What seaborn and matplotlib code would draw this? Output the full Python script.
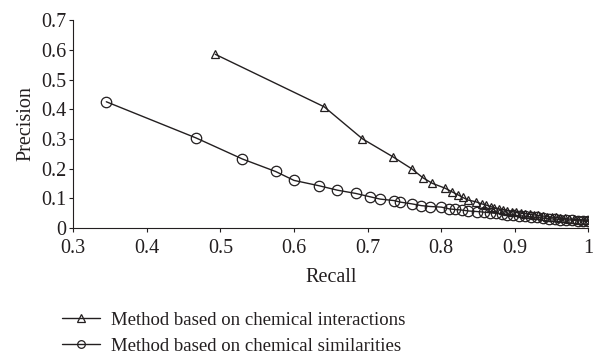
import numpy as np
import pandas as pd
import matplotlib
matplotlib.use("Agg")
import matplotlib.pyplot as plt
import seaborn as sns

# values
recall_inter = [0.493, 0.641, 0.693, 0.734, 0.760, 0.775, 0.788, 0.805, 0.815, 0.823,
                0.829, 0.836, 0.847, 0.855, 0.861, 0.867, 0.872, 0.878, 0.884, 0.890,
                0.896, 0.902, 0.908, 0.914, 0.920, 0.926, 0.932, 0.938, 0.944, 0.950,
                0.956, 0.962, 0.968, 0.974, 0.980, 0.986, 0.992, 0.997, 1.000]
prec_inter = [0.585, 0.408, 0.300, 0.240, 0.199, 0.169, 0.150, 0.134, 0.121, 0.111,
              0.103, 0.094, 0.088, 0.081, 0.077, 0.072, 0.068, 0.064, 0.061, 0.058,
              0.055, 0.052, 0.050, 0.048, 0.046, 0.044, 0.042, 0.040, 0.038, 0.036,
              0.035, 0.033, 0.032, 0.030, 0.029, 0.028, 0.027, 0.026, 0.025]

recall_sim = [0.345, 0.467, 0.530, 0.575, 0.600, 0.634, 0.659, 0.684, 0.703, 0.717,
              0.736, 0.744, 0.760, 0.773, 0.785, 0.800, 0.811, 0.819, 0.828, 0.837,
              0.849, 0.858, 0.866, 0.874, 0.882, 0.890, 0.898, 0.906, 0.914, 0.922,
              0.930, 0.938, 0.946, 0.954, 0.962, 0.970, 0.978, 0.986, 0.993, 1.000]
prec_sim = [0.425, 0.303, 0.232, 0.190, 0.160, 0.142, 0.127, 0.116, 0.105, 0.097,
            0.092, 0.087, 0.081, 0.075, 0.072, 0.070, 0.064, 0.062, 0.060, 0.057,
            0.055, 0.053, 0.051, 0.049, 0.047, 0.045, 0.043, 0.041, 0.039, 0.037,
            0.035, 0.033, 0.031, 0.030, 0.028, 0.027, 0.026, 0.024, 0.023, 0.022]

labels = ["Method based on chemical interactions",
          "Method based on chemical similarities"]

sns.set_style("ticks")
plt.rcParams["font.family"] = ["Liberation Serif", "DejaVu Serif"]

fig = plt.figure(figsize=(5.95, 3.6), dpi=100)
ax = fig.add_axes([0.123, 0.367, 0.866, 0.577])

sns.lineplot(x=recall_inter, y=prec_inter, ax=ax, color="#231f20", lw=1.0,
             marker="^", markersize=5.5, markerfacecolor="none",
             markeredgecolor="#231f20", markeredgewidth=0.9, label=labels[0])
sns.lineplot(x=recall_sim, y=prec_sim, ax=ax, color="#231f20", lw=1.0,
             marker="o", markersize=7.5, markerfacecolor="none",
             markeredgecolor="#231f20", markeredgewidth=0.9, label=labels[1])

ax.set_xlim(0.3, 1.0)
ax.set_ylim(0, 0.7)
ax.set_xticks(np.arange(0.3, 1.01, 0.1))
ax.set_xticklabels(["0.3", "0.4", "0.5", "0.6", "0.7", "0.8", "0.9", "1"])
ax.set_yticks(np.arange(0, 0.71, 0.1))
ax.set_yticklabels(["0", "0.1", "0.2", "0.3", "0.4", "0.5", "0.6", "0.7"])
ax.tick_params(labelsize=14.5, length=3, width=0.8, colors="#231f20", pad=2)
ax.tick_params(axis="x", pad=5)
ax.set_xlabel("Recall", fontsize=14.5, color="#231f20", labelpad=7)
ax.set_ylabel("Precision", fontsize=14.5, color="#231f20", labelpad=4)
sns.despine(ax=ax)
for s in ["left", "bottom"]:
    ax.spines[s].set_linewidth(0.8)
    ax.spines[s].set_color("#231f20")

leg = ax.legend(loc="upper left", bbox_to_anchor=(0.105, 0.135), bbox_transform=fig.transFigure,
                frameon=False, fontsize=13.5, handlelength=2.0, handletextpad=0.6,
                labelspacing=0.5, borderaxespad=0, borderpad=0)
for h in leg.legend_handles:
    h.set_markersize(5.5)
for t in leg.get_texts():
    t.set_color("#231f20")

fig.savefig("out.png", dpi=100)
